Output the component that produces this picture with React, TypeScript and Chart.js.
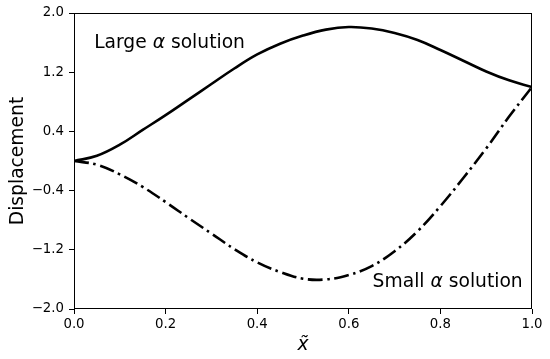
import React, { useEffect, useRef } from 'react';
import { Chart, registerables } from 'chart.js';

Chart.register(...registerables);

// ---- data ----
const xValues = [0, 0.05, 0.1, 0.15, 0.2, 0.25, 0.3, 0.35, 0.4, 0.45, 0.5, 0.55, 0.6, 0.65, 0.7, 0.75, 0.8, 0.85, 0.9, 0.95, 1.0];
const largeAlpha = [0.0, 0.07, 0.22, 0.42, 0.62, 0.83, 1.04, 1.25, 1.44, 1.585, 1.695, 1.775, 1.81, 1.79, 1.73, 1.635, 1.5, 1.355, 1.21, 1.09, 1.0];
const smallAlpha = [0.0, -0.05, -0.18, -0.35, -0.555, -0.77, -0.98, -1.19, -1.37, -1.5, -1.59, -1.6, -1.54, -1.42, -1.22, -0.95, -0.61, -0.23, 0.17, 0.6, 1.0];
const xTicks = [0, 0.2, 0.4, 0.6, 0.8, 1.0];
const yTicks = [-2.0, -1.2, -0.4, 0.4, 1.2, 2.0];

const largeLabel = ['Large ', 'α', ' solution'];
const smallLabel = ['Small ', 'α', ' solution'];
const largeLabelAt = [0.044, 1.523];
const smallLabelAt = [0.652, -1.699];

const FONT = '"DejaVu Sans", sans-serif';

const fmt = (v: number) => {
  const s = Math.abs(v).toFixed(1);
  return v < -1e-9 ? '\u2212' + s : s;
};

const framePlugin = {
  id: 'frame',
  afterDatasetsDraw(chart: any) {
    const { ctx, chartArea: a } = chart;
    ctx.save();
    ctx.strokeStyle = '#000';
    ctx.lineWidth = 1;
    const l = Math.round(a.left) + 0.5;
    const r = Math.round(a.right) - 0.5;
    const t = Math.round(a.top) + 0.5;
    const b = Math.round(a.bottom) - 0.5;
    ctx.strokeRect(l, t, r - l, b - t);
    ctx.restore();
  },
};

const drawLabel = (ctx: CanvasRenderingContext2D, parts: string[], x: number, y: number) => {
  let cx = x;
  parts.forEach((p, i) => {
    ctx.font = (i === 1 ? 'italic ' : '') + '18.7px ' + FONT;
    ctx.fillText(p, cx, y);
    cx += ctx.measureText(p).width;
  });
};

const textPlugin = {
  id: 'labels',
  afterDraw(chart: any) {
    const { ctx, scales } = chart;
    ctx.save();
    ctx.fillStyle = '#000';
    ctx.textAlign = 'left';
    ctx.textBaseline = 'alphabetic';
    drawLabel(ctx, largeLabel, scales.x.getPixelForValue(largeLabelAt[0]), scales.y.getPixelForValue(largeLabelAt[1]));
    drawLabel(ctx, smallLabel, scales.x.getPixelForValue(smallLabelAt[0]), scales.y.getPixelForValue(smallLabelAt[1]));
    ctx.restore();
  },
};

export default function App() {
  const ref = useRef<HTMLCanvasElement | null>(null);

  useEffect(() => {
    if (!ref.current) return;
    const chart = new Chart(ref.current, {
      type: 'line',
      data: {
        datasets: [
          {
            label: 'Large α solution',
            data: xValues.map((x, i) => ({ x, y: largeAlpha[i] })),
            borderColor: '#000',
            borderWidth: 2.6,
            pointRadius: 0,
            tension: 0.4,
            fill: false,
          },
          {
            label: 'Small α solution',
            data: xValues.map((x, i) => ({ x, y: smallAlpha[i] })),
            borderColor: '#000',
            borderWidth: 2.6,
            borderDash: [15, 4.5, 2.5, 4.5],
            pointRadius: 0,
            tension: 0.4,
            fill: false,
          },
        ],
      },
      options: {
        responsive: false,
        animation: false,
        devicePixelRatio: 1,
        layout: { padding: { top: 13, right: 18, left: 0, bottom: 0 } },
        plugins: { legend: { display: false }, tooltip: { enabled: false } },
        scales: {
          x: {
            type: 'linear',
            min: 0,
            max: 1,
            afterFit: (s: any) => { s.height = 50; },
            afterBuildTicks: (s: any) => { s.ticks = xTicks.map((v) => ({ value: v })); },
            ticks: {
              color: '#000',
              padding: 3,
              maxRotation: 0,
              font: { family: FONT, size: 13.3 },
              callback: (v: any) => fmt(Number(v)),
            },
            grid: { drawOnChartArea: false, drawTicks: true, tickLength: 5, color: '#000', lineWidth: 1 },
            border: { display: false },
            title: {
              display: true,
              text: 'x\u0303',
              color: '#000',
              font: { family: FONT, size: 18.7, style: 'italic' },
              padding: { top: 0, bottom: 3 },
            },
          },
          y: {
            type: 'linear',
            min: -2,
            max: 2,
            afterFit: (s: any) => { s.width = 74; },
            afterBuildTicks: (s: any) => { s.ticks = yTicks.map((v) => ({ value: v })); },
            ticks: {
              color: '#000',
              padding: 5,
              font: { family: FONT, size: 13.3 },
              callback: (v: any) => fmt(Number(v)),
            },
            grid: { drawOnChartArea: false, drawTicks: true, tickLength: 5, color: '#000', lineWidth: 1 },
            border: { display: false },
            title: {
              display: true,
              text: 'Displacement',
              color: '#000',
              font: { family: FONT, size: 18.7 },
              padding: { top: 6.5, bottom: 0 },
            },
          },
        },
      },
      plugins: [framePlugin, textPlugin],
    } as any);
    return () => chart.destroy();
  }, []);

  return (
    <div style={{ position: 'absolute', left: 0, top: 0, width: 550, height: 359, background: '#fff' }}>
      <canvas ref={ref} width={550} height={359} style={{ display: 'block', width: 550, height: 359 }} />
    </div>
  );
}
